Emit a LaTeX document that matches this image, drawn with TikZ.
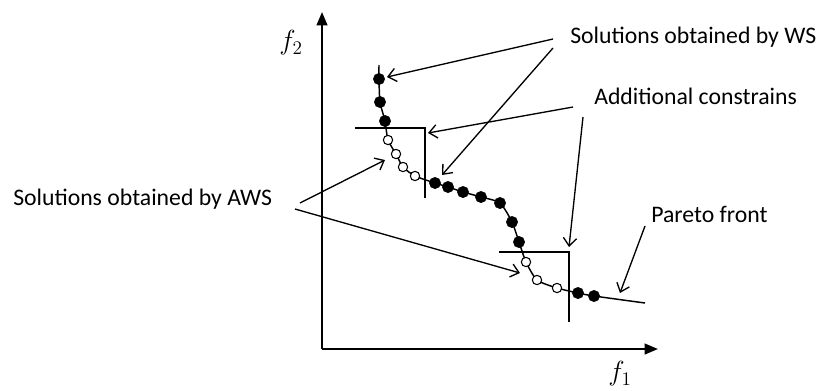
\documentclass[tikz,border=0pt]{standalone}
\usepackage{fontspec}
\setmainfont{Carlito}
\usetikzlibrary{arrows.meta}

\tikzset{
  wsdot/.style={circle, fill=black, draw=black, inner sep=0pt, minimum size=8.5pt},
  awsdot/.style={circle, fill=white, draw=black, line width=0.8pt, inner sep=0pt, minimum size=7pt},
  lbl/.style={anchor=base west, inner sep=0pt, font=\fontsize{17.8}{21}\selectfont},
  flbl/.style={inner sep=0pt, font=\fontsize{20}{24}\selectfont},
  pointer/.style={line width=1pt, -{Straight Barb[length=6pt,width=10pt,line width=1pt]}},
  axis/.style={line width=1.6pt, -{Triangle[length=10pt,width=8pt]}}
}

\begin{document}
\begin{tikzpicture}[x=0.75pt, y=-0.75pt]
    \useasboundingbox (0,0) rectangle (822,390);
    % Achsen:
    \coordinate (o) at (322,349);
    \coordinate (ytop) at (322,12);
    \coordinate (xend) at (658,349);
    \draw[axis] (o) -- (ytop);
    \draw[axis] (o) -- (xend);
    \node[flbl] (f2) at (291,43) {$f_2$};
    \node[flbl] (f1) at (620,374) {$f_1$};

    % Pareto-Front:
    \draw[line width=1.1pt] plot[smooth, tension=0.4] coordinates {
      (379,65) (379,79) (380,102) (385,121) (388,140) (396,154) (403,167) (415,176)
      (435,183) (448,187) (463,192) (481,197) (500,203) (512,222) (519,242)
      (526,262) (537,280) (557,288) (578,293) (594,296) (645,303)};
    \coordinate (pend) at (645,303);

    % Zusatzbedingungen:
    \draw[line width=1.1pt] (355,128) -- (425,128) -- (425,198); % erste
    \draw[line width=1.1pt] (499,252) -- (569,252) -- (569,322); % zweite

    % Loesungen WS:
    \node[wsdot] (w1) at (379,79) {};
    \node[wsdot] (w2) at (380,102) {};
    \node[wsdot] (w3) at (385,121) {};
    \node[wsdot] (w4) at (435,183) {};
    \node[wsdot] (w5) at (448,187) {};
    \node[wsdot] (w6) at (463,192) {};
    \node[wsdot] (w7) at (481,197) {};
    \node[wsdot] (w8) at (500,203) {};
    \node[wsdot] (w9) at (512,222) {};
    \node[wsdot] (w10) at (519,242) {};
    \node[wsdot] (w11) at (578,293) {};
    \node[wsdot] (w12) at (594,296) {};
    % Loesungen AWS:
    \node[awsdot] (a1) at (388,140) {};
    \node[awsdot] (a2) at (396,154) {};
    \node[awsdot] (a3) at (403,167) {};
    \node[awsdot] (a4) at (415,176) {};
    \node[awsdot] (a5) at (526,262) {};
    \node[awsdot] (a6) at (537,280) {};
    \node[awsdot] (a7) at (557,288) {};

    % Beschriftungen:
    \node[lbl] (ws) at (570,43) {Solutions obtained by WS};
    \node[lbl] (ac) at (594,104) {Additional constrains};
    \node[lbl] (aws) at (13,205) {Solutions obtained by AWS};
    \node[lbl] (pf) at (651,222) {Pareto front};

    % Pfeile:
    \coordinate (ws1) at (553,39);
    \coordinate (ws2) at (553,48);
    \coordinate (ac1) at (573,107);
    \coordinate (ac2) at (583,117);
    \coordinate (aws1) at (300,203);
    \coordinate (aws2) at (295,209);
    \coordinate (pf1) at (645,226);
    \coordinate (t1) at (387,77);
    \coordinate (t2) at (442,175);
    \coordinate (t3) at (428,133);
    \coordinate (t4) at (569,247);
    \coordinate (t5) at (385,160);
    \coordinate (t6) at (520,273);
    \coordinate (t7) at (620,293);
    \draw[pointer] (ws1) -- (t1);
    \draw[pointer] (ws2) -- (t2);
    \draw[pointer] (ac1) -- (t3);
    \draw[pointer] (ac2) -- (t4);
    \draw[pointer] (aws1) -- (t5);
    \draw[pointer] (aws2) -- (t6);
    \draw[pointer] (pf1) -- (t7);
\end{tikzpicture}
\end{document}
